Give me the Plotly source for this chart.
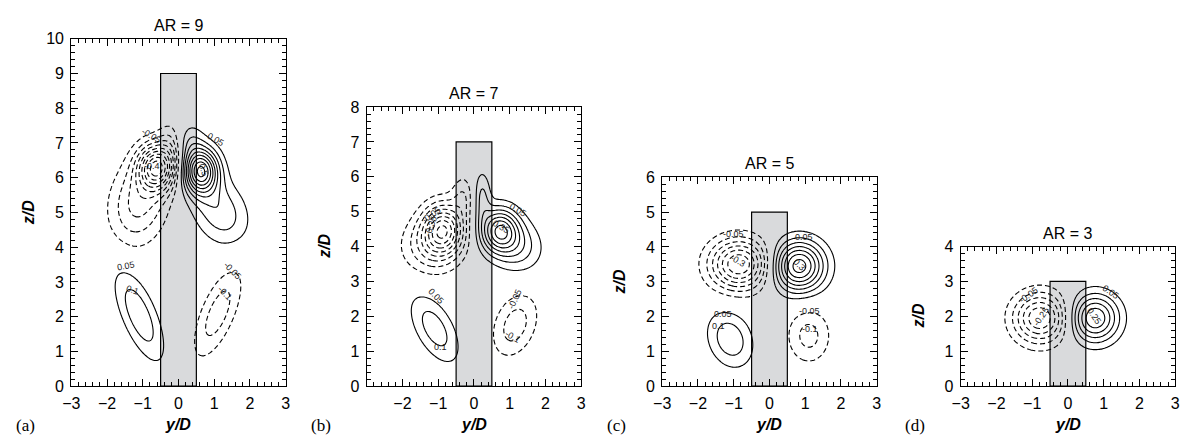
import numpy as np
import plotly.graph_objects as go

# ---------------- data ----------------
AR_VALUES = [9, 7, 5, 3]
PANEL_TAGS = ["(a)", "(b)", "(c)", "(d)"]
PANEL_TITLES = ["AR = 9", "AR = 7", "AR = 5", "AR = 3"]
X_TICKVALS = [[-3, -2, -1, 0, 1, 2, 3],
              [-2, -1, 0, 1, 2, 3],
              [-3, -2, -1, 0, 1, 2, 3],
              [-3, -2, -1, 0, 1, 2, 3]]
Y_TICKVALS = [list(range(0, 11)), list(range(0, 9)), list(range(0, 7)), list(range(0, 5))]

# contour levels (vorticity)
POS_LEVELS = [0.05, 0.6, 0.05]      # start, end, step (solid lines)
NEG_LEVELS = [-0.6, -0.05, 0.05]    # start, end, step (dashed lines)

# vortex structures: centre y/D, centre z/D, peak, spread y, spread z, tilt (deg)
VA_Y = [0.62, 1.15, 0.3, -1.1, -0.6, -1.1, -0.2, 1.1]
VA_Z = [6.2, 5.05, 7.05, 2.05, 6.3, 5.3, 7.0, 2.1]
VA_PEAK = [0.44, 0.14, 0.08, 0.14, -0.42, -0.17, -0.08, -0.13]
VA_SY = [0.34, 0.5, 0.28, 0.33, 0.36, 0.55, 0.25, 0.33]
VA_SZ = [0.45, 0.72, 0.38, 0.98, 0.45, 0.85, 0.45, 0.95]
VA_TILT = [0, 28, 0, 22, 0, -12, 0, -22]

VB_Y = [0.72, 0.22, 1.3, -1.1, -0.85, -1.25, -0.3, 1.15]
VB_Z = [4.45, 5.45, 3.95, 1.65, 4.5, 4.0, 5.45, 1.75]
VB_PEAK = [0.35, 0.11, 0.11, 0.13, -0.35, -0.13, -0.09, -0.13]
VB_SY = [0.38, 0.17, 0.45, 0.36, 0.4, 0.55, 0.22, 0.4]
VB_SZ = [0.45, 0.5, 0.5, 0.75, 0.5, 0.55, 0.42, 0.65]
VB_TILT = [0, 0, 0, 28, 0, 0, 0, -20]

VC_Y = [0.82, -1.1, -0.85, 1.1]
VC_Z = [3.45, 1.35, 3.5, 1.45]
VC_PEAK = [0.38, 0.14, -0.35, -0.12]
VC_SY = [0.5, 0.42, 0.57, 0.42]
VC_SZ = [0.5, 0.58, 0.5, 0.55]
VC_TILT = [0, 20, 0, 0]

VD_Y = [0.75, -0.78]
VD_Z = [1.95, 1.95]
VD_PEAK = [0.3, -0.3]
VD_SY = [0.47, 0.52]
VD_SZ = [0.48, 0.5]
VD_TILT = [0, 0]

VORTICES = [
    (VA_Y, VA_Z, VA_PEAK, VA_SY, VA_SZ, VA_TILT),
    (VB_Y, VB_Z, VB_PEAK, VB_SY, VB_SZ, VB_TILT),
    (VC_Y, VC_Z, VC_PEAK, VC_SY, VC_SZ, VC_TILT),
    (VD_Y, VD_Z, VD_PEAK, VD_SY, VD_SZ, VD_TILT),
]

# contour labels shown on the picture
LABEL_TEXTS = [
    ["-0.05", "0.05", "-0.4", "0.5", "0.05", "0.1", "-0.05", "-0.1"],
    ["-0.05", "-0.35", "0.05", "0.35", "0.05", "0.1", "-0.05", "-0.1"],
    ["-0.05", "-0.3", "0.05", "0.3", "0.05", "0.1", "-0.05", "-0.1"],
    ["-0.05", "-0.25", "0.05", "0.25"],
]

# ---------------- layout / style ----------------
W, H = 1193, 448
BOXES = [(63, 280, 32, 393), (362, 579, 103, 393), (661, 878, 176, 393), (963, 1180, 248, 393)]
LABEL_POS = [
    [(-0.75, 7.2, 30), (1.06, 7.1, 30), (-0.75, 6.35, 0), (0.7, 6.22, 70),
     (-1.48, 3.46, -10), (-1.29, 2.76, 20), (1.52, 3.31, 45), (1.29, 2.67, 45)],
    [(-1.2, 4.91, -35), (-1.2, 4.58, -70), (1.23, 5.05, 30), (0.76, 4.55, 30),
     (-1.07, 2.57, 45), (-0.93, 1.13, 0), (1.14, 2.51, -65), (1.09, 1.41, 30)],
    [(-1.01, 4.36, 0), (-0.87, 3.59, 30), (0.98, 4.28, 0), (0.84, 3.48, 45),
     (-1.29, 2.07, 0), (-1.42, 1.72, 0), (1.12, 2.15, 0), (1.12, 1.65, 0)],
    [(-1.1, 2.62, -35), (-0.73, 2.0, -55), (1.2, 2.7, 35), (0.73, 2.0, 55)],
]
SANS = "Liberation Sans, Arial, Helvetica, sans-serif"
SERIF = "Liberation Serif, Times New Roman, serif"


def field(Y, Z, params):
    ys, zs, peaks, sys_, szs, tilts = params
    F = np.zeros_like(Y)
    for yc, zc, a, sy, sz, t in zip(ys, zs, peaks, sys_, szs, tilts):
        th = np.deg2rad(t)
        dy, dz = Y - yc, Z - zc
        u = dy * np.cos(th) + dz * np.sin(th)
        v = -dy * np.sin(th) + dz * np.cos(th)
        F += a * np.exp(-(u ** 2 / (2 * sy ** 2) + v ** 2 / (2 * sz ** 2)))
    return F


fig = go.Figure()
layout = dict(
    width=W, height=H, margin=dict(l=0, r=0, t=0, b=0),
    paper_bgcolor="white", plot_bgcolor="white", showlegend=False,
    shapes=[], annotations=[],
)

for i, ar in enumerate(AR_VALUES):
    n = "" if i == 0 else str(i + 1)
    xa, ya = "x" + n, "y" + n
    x0, x1, top, bot = BOXES[i]
    zmax = ar + 1

    yg = np.linspace(-3, 3, 151)
    zg = np.linspace(0, zmax, int(zmax * 25) + 1)
    Y, Z = np.meshgrid(yg, zg)
    F = field(Y, Z, VORTICES[i])

    fig.add_trace(go.Contour(
        x=yg, y=zg, z=F, xaxis=xa, yaxis=ya, autocontour=False,
        contours=dict(start=POS_LEVELS[0], end=POS_LEVELS[1], size=POS_LEVELS[2],
                      coloring="none", showlabels=False),
        line=dict(color="black", width=1.1), showscale=False, hoverinfo="skip"))
    fig.add_trace(go.Contour(
        x=yg, y=zg, z=F, xaxis=xa, yaxis=ya, autocontour=False,
        contours=dict(start=NEG_LEVELS[0], end=NEG_LEVELS[1], size=NEG_LEVELS[2],
                      coloring="none", showlabels=False),
        line=dict(color="black", width=1.1, dash="5px,3px"), showscale=False, hoverinfo="skip"))

    tickfont = dict(family=SANS, size=16, color="black")
    common = dict(ticks="inside", ticklen=7, tickwidth=1, tickcolor="black",
                  showline=True, linecolor="black", linewidth=1.2, mirror="ticks",
                  showgrid=False, zeroline=False, tickfont=tickfont, fixedrange=True,
                  ticklabelstandoff=3)
    layout["xaxis" + n] = dict(
        domain=[x0 / W, x1 / W], range=[-3, 3], anchor=ya,
        tickmode="array", tickvals=X_TICKVALS[i],
        minor=dict(ticks="inside", ticklen=4, tickwidth=1, tickcolor="black",
                   tickmode="linear", tick0=0, dtick=0.2),
        **common)
    layout["yaxis" + n] = dict(
        domain=[1 - bot / H, 1 - top / H], range=[0, zmax], anchor=xa,
        tickmode="array", tickvals=Y_TICKVALS[i],
        minor=dict(ticks="inside", ticklen=4, tickwidth=1, tickcolor="black",
                   tickmode="linear", tick0=0, dtick=0.2),
        **common)

    # cylinder
    layout["shapes"].append(dict(
        type="rect", xref=xa, yref=ya, x0=-0.5, x1=0.5, y0=0, y1=ar,
        fillcolor="#d9dadc", line=dict(color="black", width=1.2), layer="below"))

    cx = (x0 + x1) / 2 / W
    layout["annotations"].append(dict(
        text=PANEL_TITLES[i], xref="paper", yref="paper", x=cx, y=1 - (top - 3) / H,
        xanchor="center", yanchor="bottom", showarrow=False,
        font=dict(family=SANS, size=16, color="black")))
    layout["annotations"].append(dict(
        text="<b><i>y/D</i></b>", xref="paper", yref="paper", x=cx, y=1 - 433 / H,
        xanchor="center", yanchor="middle", showarrow=False,
        font=dict(family=SANS, size=16, color="black")))
    layout["annotations"].append(dict(
        text="<b><i>z/D</i></b>", xref="paper", yref="paper", x=(x0 - 43) / W,
        y=1 - (top + bot) / 2 / H, xanchor="center", yanchor="middle", textangle=-90,
        showarrow=False, font=dict(family=SANS, size=16, color="black")))
    layout["annotations"].append(dict(
        text=PANEL_TAGS[i], xref="paper", yref="paper", x=(x0 - 58) / W, y=1 - 434 / H,
        xanchor="left", yanchor="middle", showarrow=False,
        font=dict(family=SERIF, size=17, color="black")))

    for txt, (ly, lz, ang) in zip(LABEL_TEXTS[i], LABEL_POS[i]):
        layout["annotations"].append(dict(
            text=txt, xref=xa, yref=ya, x=ly, y=lz, showarrow=False, textangle=ang,
            font=dict(family=SANS, size=9, color="#222"), borderpad=0))

fig.update_layout(**layout)
fig.write_html("out.html")
